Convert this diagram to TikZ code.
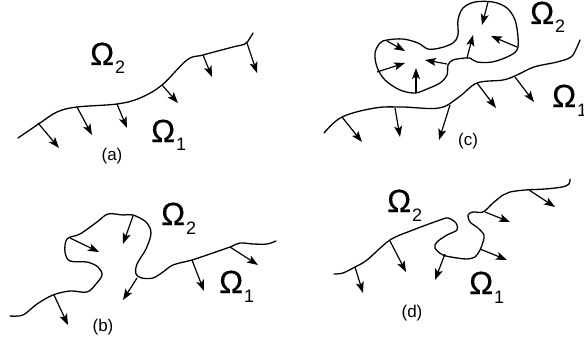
\documentclass[tikz,border=0pt]{standalone}
\usepackage{fontspec}
\setmainfont{Liberation Sans}
\newfontfamily\omfont{Liberation Sans}[FakeBold=0.6]
\usepackage{tikz}
\usetikzlibrary{arrows.meta}
\newcommand\om[1]{{\omfont\fontsize{32}{32}\selectfont Ω}\kern1pt\raisebox{-9pt}{\fontsize{18}{18}\selectfont #1}}

\begin{document}
\begin{tikzpicture}[font=\fontsize{17}{17}\selectfont,>={Stealth[length=11pt,width=8pt,inset=2.5pt]},x=1pt,y=-1pt]
\tikzset{wire/.style={line width=1.3pt,line join=round,line cap=round},
arr/.style={->,line width=1.2pt},
om/.style={inner sep=0pt,anchor=base west}}
\useasboundingbox (0,0) rectangle (584,345);

\draw[wire] plot[smooth,tension=.6] coordinates {(18,138) (40,123) (57,112) (77,107) (117,104) (140,98) (162,85) (187,60) (203,55) (233,47) (245,44) (250,38) (253,33)};
\foreach \xa/\ya/\xb/\yb in {38/123/59/148,77/107/92/135,117/104/127/128,162/85/178/103,203/55/212/77,247/43/257/73}{\draw[arr] (\xa,\ya)--(\xb,\yb);}
\node[om] (oa2) at (90,65){\om{2}};
\node[om] (oa1) at (151,142){\om{1}};
\node (la) at (112,156){(a)};

\draw[wire] plot[smooth,tension=.55] coordinates {(10,316) (23,315) (37,304) (53,295) (70,291) (87,292) (96,284) (102,275) (98,267) (87,262) (70,261) (65,252) (67,239) (80,234) (97,222) (108,214) (123,215) (133,215) (146,222) (151,233) (146,249) (137,264) (136,274) (142,278) (153,278) (163,272) (173,265) (192,260) (207,255) (230,247) (240,243) (253,244) (267,244) (276,241)};
\foreach \xa/\ya/\xb/\yb in {54/295/68/325,70/238/99/252,133/216/123/244,137/278/123/300,192/260/204/291,230/247/258/265}{\draw[arr] (\xa,\ya)--(\xb,\yb);}
\node[om] (ob2) at (161,225){\om{2}};
\node[om] (ob1) at (219,293){\om{1}};
\node (lb) at (103,327){(b)};

\draw[wire] plot[smooth,tension=.6] coordinates {(324,133) (342,117) (375,108) (402,107) (439,108) (459,97) (477,83) (503,80) (517,75) (534,67) (557,62) (571,57) (577,47) (580,40)};
\foreach \xa/\ya/\xb/\yb in {342/117/362/142,395/108/400/137,450/105/439/140,477/83/496/108,515/77/534/102}{\draw[arr] (\xa,\ya)--(\xb,\yb);}
\draw[wire] plot[smooth cycle,tension=.55] coordinates {(375,53) (380,43) (387,40) (403,39) (418,43) (428,49) (440,48) (453,43) (458,35) (458,20) (463,8) (475,2) (493,2) (507,8) (515,20) (518,37) (517,50) (507,57) (492,62) (477,62) (470,58) (465,58) (453,60) (448,65) (447,75) (440,83) (427,89) (415,93) (400,90) (385,80) (377,67)};
\foreach \xa/\ya/\xb/\yb in {488/2/482/25,387/41/405/51,517/47/491/36,377/72/405/63,447/64/425/60,467/58/473/35,416/93/416/68}{\draw[arr] (\xa,\ya)--(\xb,\yb);}
\node[om] (oc2) at (530,24){\om{2}};
\node[om] (oc1) at (552,107){\om{1}};
\node (lc) at (468,141){(c)};

\draw[wire] plot[smooth,tension=.55] coordinates {(334,274) (343,273) (355,267) (367,260) (390,240) (413,230) (440,220) (448,218) (456,223) (457,230) (447,235) (437,242) (435,248) (443,255) (457,258) (467,259) (475,257) (480,250) (483,242) (484,235) (478,228) (470,222) (468,215) (473,212) (483,212) (493,203) (503,195) (510,192) (525,190) (545,189) (562,187) (569,184) (570,179)};
\foreach \xa/\ya/\xb/\yb in {355/267/363/293,390/241/406/272,445/254/435/280,480/249/507/260,485/212/510/222,529/190/555/207}{\draw[arr] (\xa,\ya)--(\xb,\yb);}
\node[om] (od2) at (387,212){\om{2}};
\node[om] (od1) at (469,294){\om{1}};
\node (ld) at (412,313){(d)};
\end{tikzpicture}
\end{document}
